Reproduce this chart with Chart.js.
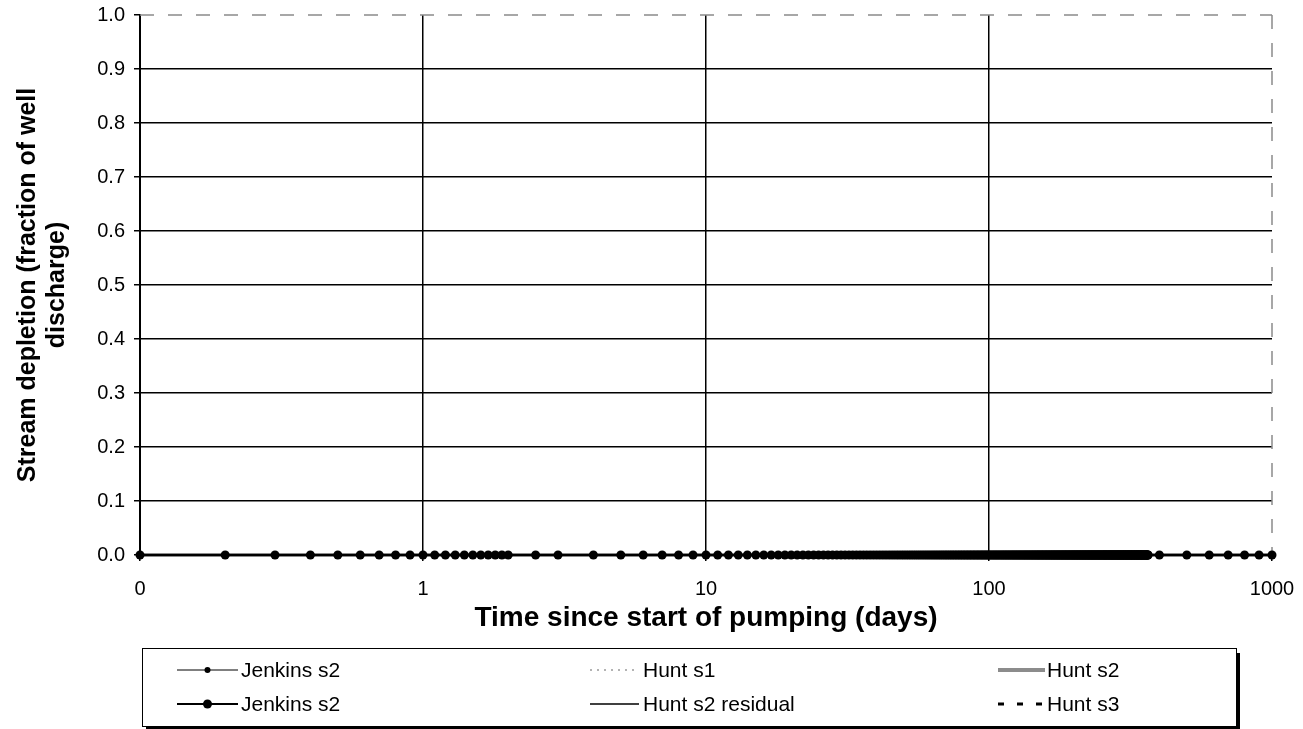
<!DOCTYPE html>
<html>
<head>
<meta charset="utf-8">
<script src="https://cdn.jsdelivr.net/npm/chart.js@4.4.0/dist/chart.umd.min.js"></script>
<style>
  html, body { margin: 0; padding: 0; background: #fff; overflow: hidden; }
  #wrap { width: 1303px; height: 729px; position: relative; }
</style>
</head>
<body>
<div id="wrap"><canvas id="myChart"></canvas></div>
<script>
"use strict"

let jenkinsTimes = [
    0.1, 0.2, 0.3, 0.4, 0.5, 0.6, 0.7, 0.8, 0.9, 1.0,
    1.1, 1.2, 1.3, 1.4, 1.5, 1.6, 1.7, 1.8, 1.9, 2.0,
    2.5, 3, 4, 5, 6, 7, 8, 9,
    10, 11, 12, 13, 14, 15, 16, 17, 18, 19, 20, 21, 22, 23, 24, 25, 26, 27, 28, 29,
    30, 31, 32, 33, 34, 35, 36, 37, 38, 39, 40, 41, 42, 43, 44, 45, 46, 47, 48, 49,
    50, 51, 52, 53, 54, 55, 56, 57, 58, 59, 60, 61, 62, 63, 64, 65, 66, 67, 68, 69,
    70, 71, 72, 73, 74, 75, 76, 77, 78, 79, 80, 81, 82, 83, 84, 85, 86, 87, 88, 89,
    90, 91, 92, 93, 94, 95, 96, 97, 98, 99, 100, 101, 102, 103, 104, 105, 106, 107, 108, 109,
    110, 111, 112, 113, 114, 115, 116, 117, 118, 119, 120, 121, 122, 123, 124, 125, 126, 127, 128, 129,
    130, 131, 132, 133, 134, 135, 136, 137, 138, 139, 140, 141, 142, 143, 144, 145, 146, 147, 148, 149,
    150, 151, 152, 153, 154, 155, 156, 157, 158, 159, 160, 161, 162, 163, 164, 165, 166, 167, 168, 169,
    170, 171, 172, 173, 174, 175, 176, 177, 178, 179, 180, 181, 182, 183, 184, 185, 186, 187, 188, 189,
    190, 191, 192, 193, 194, 195, 196, 197, 198, 199, 200, 201, 202, 203, 204, 205, 206, 207, 208, 209,
    210, 211, 212, 213, 214, 215, 216, 217, 218, 219, 220, 221, 222, 223, 224, 225, 226, 227, 228, 229,
    230, 231, 232, 233, 234, 235, 236, 237, 238, 239, 240, 241, 242, 243, 244, 245, 246, 247, 248, 249,
    250, 251, 252, 253, 254, 255, 256, 257, 258, 259, 260, 261, 262, 263, 264, 265, 266, 267, 268, 269,
    270, 271, 272, 273, 274, 275, 276, 277, 278, 279, 280, 281, 282, 283, 284, 285, 286, 287, 288, 289,
    290, 291, 292, 293, 294, 295, 296, 297, 298, 299, 300, 301, 302, 303, 304, 305, 306, 307, 308, 309,
    310, 311, 312, 313, 314, 315, 316, 317, 318, 319, 320, 321, 322, 323, 324, 325, 326, 327, 328, 329,
    330, 331, 332, 333, 334, 335, 336, 337, 338, 339, 340, 341, 342, 343, 344, 345, 346, 347, 348, 349,
    350, 351, 352, 353, 354, 355, 356, 357, 358, 359, 360, 361, 362, 363, 364, 365,
    400, 500, 600, 700, 800, 900, 1000
]

// stream depletion at each Jenkins time (every marker sits on 0.0)
let jenkinsDepletion = [
    0, 0, 0, 0, 0, 0, 0, 0, 0, 0,
    0, 0, 0, 0, 0, 0, 0, 0, 0, 0,
    0, 0, 0, 0, 0, 0, 0, 0,
    0, 0, 0, 0, 0, 0, 0, 0, 0, 0, 0, 0, 0, 0, 0, 0, 0, 0, 0, 0,
    0, 0, 0, 0, 0, 0, 0, 0, 0, 0, 0, 0, 0, 0, 0, 0, 0, 0, 0, 0,
    0, 0, 0, 0, 0, 0, 0, 0, 0, 0, 0, 0, 0, 0, 0, 0, 0, 0, 0, 0,
    0, 0, 0, 0, 0, 0, 0, 0, 0, 0, 0, 0, 0, 0, 0, 0, 0, 0, 0, 0,
    0, 0, 0, 0, 0, 0, 0, 0, 0, 0, 0, 0, 0, 0, 0, 0, 0, 0, 0, 0,
    0, 0, 0, 0, 0, 0, 0, 0, 0, 0, 0, 0, 0, 0, 0, 0, 0, 0, 0, 0,
    0, 0, 0, 0, 0, 0, 0, 0, 0, 0, 0, 0, 0, 0, 0, 0, 0, 0, 0, 0,
    0, 0, 0, 0, 0, 0, 0, 0, 0, 0, 0, 0, 0, 0, 0, 0, 0, 0, 0, 0,
    0, 0, 0, 0, 0, 0, 0, 0, 0, 0, 0, 0, 0, 0, 0, 0, 0, 0, 0, 0,
    0, 0, 0, 0, 0, 0, 0, 0, 0, 0, 0, 0, 0, 0, 0, 0, 0, 0, 0, 0,
    0, 0, 0, 0, 0, 0, 0, 0, 0, 0, 0, 0, 0, 0, 0, 0, 0, 0, 0, 0,
    0, 0, 0, 0, 0, 0, 0, 0, 0, 0, 0, 0, 0, 0, 0, 0, 0, 0, 0, 0,
    0, 0, 0, 0, 0, 0, 0, 0, 0, 0, 0, 0, 0, 0, 0, 0, 0, 0, 0, 0,
    0, 0, 0, 0, 0, 0, 0, 0, 0, 0, 0, 0, 0, 0, 0, 0, 0, 0, 0, 0,
    0, 0, 0, 0, 0, 0, 0, 0, 0, 0, 0, 0, 0, 0, 0, 0, 0, 0, 0, 0,
    0, 0, 0, 0, 0, 0, 0, 0, 0, 0, 0, 0, 0, 0, 0, 0, 0, 0, 0, 0,
    0, 0, 0, 0, 0, 0, 0, 0, 0, 0, 0, 0, 0, 0, 0, 0, 0, 0, 0, 0,
    0, 0, 0, 0, 0, 0, 0, 0, 0, 0, 0, 0, 0, 0, 0, 0,
    0, 0, 0, 0, 0, 0, 0
]

// Hunt curves: lines along 0.0 over the whole time range
let huntTimes = [0.1, 1000]
let huntS1 = [0, 0]
let huntS2 = [0, 0]
let huntS2Residual = [0, 0]
let huntS3 = [0, 0]

let seriesNames = ['Jenkins s2', 'Jenkins s2', 'Hunt s1', 'Hunt s2', 'Hunt s2 residual', 'Hunt s3']

// axis ticks
let xTickValues = [0.1, 1, 10, 100, 1000]
let xTickLabels = ['0', '1', '10', '100', '1000']
let yMin = 0
let yMax = 1
let yStep = 0.1

const FONT = "'Liberation Sans', Arial, sans-serif"

function toPoints(xs, ys) {
    let pts = []
    for (let i = 0; i < xs.length; i++) {
        pts.push({x: xs[i], y: ys[i]})
    }
    return pts
}

// gray dashed frame on top and right of the plot area
const frameBorder = {
    id: 'frameBorder',
    beforeDatasetsDraw(chart) {
        let ctx = chart.ctx
        let a = chart.chartArea
        ctx.save()
        ctx.strokeStyle = '#8a8a8a'
        ctx.lineWidth = 1.5
        ctx.setLineDash([14, 14])
        ctx.beginPath()
        ctx.moveTo(a.left, a.top)
        ctx.lineTo(a.right, a.top)
        ctx.moveTo(a.right, a.top)
        ctx.lineTo(a.right, a.bottom)
        ctx.stroke()
        ctx.restore()
    }
}

// legend in a boxed 3 x 2 grid below the axis title
const legendBox = {
    id: 'legendBox',
    afterDraw(chart) {
        let ctx = chart.ctx
        let x0 = 142, y0 = 648, w = 1094, h = 78
        let sampleX = [177, 590, 998]
        let sampleW = [61, 49, 47]
        let textX = [241, 643, 1047]
        let rowY = [670, 704]
        let order = [[0, 2, 3], [1, 4, 5]]

        ctx.save()
        ctx.fillStyle = '#000'
        ctx.fillRect(x0 + w, y0 + 5, 4, h)
        ctx.fillRect(x0 + 4, y0 + h, w, 3)
        ctx.fillStyle = '#fff'
        ctx.fillRect(x0, y0, w, h)
        ctx.strokeStyle = '#000'
        ctx.lineWidth = 1
        ctx.strokeRect(x0 + 0.5, y0 + 0.5, w, h)

        ctx.font = '21px ' + FONT
        ctx.textBaseline = 'middle'
        ctx.textAlign = 'left'
        for (let r = 0; r < 2; r++) {
            for (let c = 0; c < 3; c++) {
                let idx = order[r][c]
                let ds = chart.data.datasets[idx]
                let y = rowY[r]
                ctx.strokeStyle = ds.borderColor
                ctx.lineWidth = ds.borderWidth
                ctx.setLineDash(ds.borderDash || [])
                ctx.beginPath()
                ctx.moveTo(sampleX[c], y)
                ctx.lineTo(sampleX[c] + sampleW[c], y)
                ctx.stroke()
                ctx.setLineDash([])
                if (ds.pointRadius > 0) {
                    ctx.fillStyle = ds.pointBackgroundColor
                    ctx.beginPath()
                    ctx.arc(sampleX[c] + sampleW[c] / 2, y, ds.pointRadius, 0, Math.PI * 2)
                    ctx.fill()
                }
                ctx.fillStyle = '#000'
                ctx.fillText(seriesNames[idx], textX[c], y + 1)
            }
        }
        ctx.restore()
    }
}

let ctx = document.getElementById('myChart').getContext('2d')
let myChart = new Chart(ctx, {
    type: 'line',
    data: {
        datasets: [
            {
                label: seriesNames[0],
                data: toPoints(jenkinsTimes, jenkinsDepletion),
                borderColor: '#000',
                borderWidth: 1,
                pointRadius: 3,
                pointBackgroundColor: '#000',
                pointBorderWidth: 0,
                clip: false
            },
            {
                label: seriesNames[1],
                data: toPoints(jenkinsTimes, jenkinsDepletion),
                borderColor: '#000',
                borderWidth: 2,
                pointRadius: 4.5,
                pointBackgroundColor: '#000',
                pointBorderWidth: 0,
                clip: false
            },
            {
                label: seriesNames[2],
                data: toPoints(huntTimes, huntS1),
                borderColor: '#9a9a9a',
                borderWidth: 1.5,
                borderDash: [2, 5],
                pointRadius: 0,
                clip: false
            },
            {
                label: seriesNames[3],
                data: toPoints(huntTimes, huntS2),
                borderColor: '#8c8c8c',
                borderWidth: 4,
                pointRadius: 0,
                clip: false
            },
            {
                label: seriesNames[4],
                data: toPoints(huntTimes, huntS2Residual),
                borderColor: '#000',
                borderWidth: 1.5,
                pointRadius: 0,
                clip: false
            },
            {
                label: seriesNames[5],
                data: toPoints(huntTimes, huntS3),
                borderColor: '#000',
                borderWidth: 3,
                borderDash: [6, 13],
                pointRadius: 0,
                clip: false
            }
        ]
    },
    options: {
        responsive: true,
        maintainAspectRatio: false,
        animation: false,
        layout: {
            padding: {left: 0, right: 31, top: 15, bottom: 92}
        },
        plugins: {
            legend: {display: false},
            tooltip: {enabled: false}
        },
        scales: {
            x: {
                type: 'logarithmic',
                min: 0.1,
                max: 1000,
                afterBuildTicks: function(scale) {
                    scale.ticks = xTickValues.map(v => ({value: v}))
                },
                afterFit: function(scale) {
                    scale.height = 82
                    scale.paddingLeft = 0
                    scale.paddingRight = 0
                },
                ticks: {
                    autoSkip: false,
                    maxRotation: 0,
                    padding: 16,
                    color: '#000',
                    font: {family: FONT, size: 20},
                    callback: function(value, index) {
                        return xTickLabels[index]
                    }
                },
                grid: {
                    color: function(c) {
                        if (!c.tick) return '#000'
                        let v = c.tick.value
                        return (v === 0.1 || v === 1000) ? 'rgba(0,0,0,0)' : '#000'
                    },
                    lineWidth: 1.5,
                    tickLength: 6,
                    tickColor: '#000',
                    tickWidth: 1.5
                },
                border: {display: true, color: '#000', width: 2},
                title: {
                    display: true,
                    text: 'Time since start of pumping (days)',
                    color: '#000',
                    font: {family: FONT, size: 28, weight: 'bold', lineHeight: 1.1},
                    padding: {top: 2, bottom: 3}
                }
            },
            y: {
                min: yMin,
                max: yMax,
                afterFit: function(scale) {
                    scale.width = 140
                    scale.paddingTop = 0
                    scale.paddingBottom = 0
                },
                ticks: {
                    stepSize: yStep,
                    padding: 9,
                    color: '#000',
                    font: {family: FONT, size: 20},
                    callback: function(value) {
                        return value.toFixed(1)
                    }
                },
                grid: {
                    color: function(c) {
                        if (!c.tick) return '#000'
                        let v = c.tick.value
                        return (Math.abs(v) < 1e-9 || Math.abs(v - 1) < 1e-9) ? 'rgba(0,0,0,0)' : '#000'
                    },
                    lineWidth: 1.5,
                    tickLength: 6,
                    tickColor: '#000',
                    tickWidth: 1.5
                },
                border: {display: true, color: '#000', width: 2},
                title: {
                    display: true,
                    text: ['Stream depletion (fraction of well', 'discharge)'],
                    color: '#000',
                    font: {family: FONT, size: 25, weight: 'bold', lineHeight: 1.15},
                    padding: {top: 14, bottom: 0}
                }
            }
        }
    },
    plugins: [frameBorder, legendBox]
})
</script>
</body>
</html>
